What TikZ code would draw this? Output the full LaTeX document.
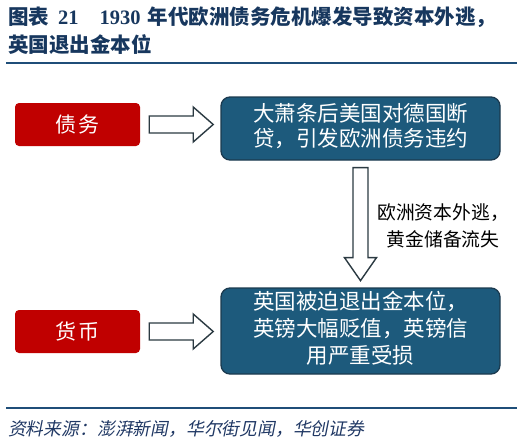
\documentclass[tikz,border=0pt]{standalone}
\usepackage{fontspec}
\usetikzlibrary{calc}
\newfontfamily\cjk{Noto Sans CJK SC}
\newfontfamily\cjkit[FakeSlant=0.2]{Noto Sans CJK SC}
\newfontfamily\latser{Liberation Serif}
\definecolor{titleblue}{HTML}{17375E}
\definecolor{rulec}{HTML}{1F4E79}
\definecolor{boxblue}{HTML}{1D5A7C}
\definecolor{boxedge}{HTML}{1B3A4F}
\definecolor{boxred}{HTML}{C00000}
\definecolor{arrowedge}{HTML}{2B3A42}
\definecolor{footc}{HTML}{203864}
\tikzset{
  redbox/.style={fill=boxred, rounded corners=4pt, minimum width=125pt, minimum height=43pt,
    text=white, font=\cjk\fontsize{21}{24}\selectfont, inner sep=0pt},
  bluebox/.style={fill=boxblue, draw=boxedge, line width=1.3pt, rounded corners=9pt,
    minimum width=279pt, text=white, align=center, inner sep=0pt},
  blockarrow/.style={fill=white, draw=arrowedge, line width=1.4pt, line join=miter},
  rulestyle/.style={draw=rulec, line width=1.8pt}
}
\begin{document}
\begin{tikzpicture}[x=1pt,y=-1pt]
\useasboundingbox (0,0) rectangle (524,444);
% title
\node[anchor=west, inner sep=0pt, text=titleblue, font=\cjk\bfseries\fontsize{20.5}{24}\selectfont] (t1) at (8,17)
  {图表\hspace{9pt}{\latser\bfseries 21}\hspace{21pt}{\latser\bfseries 1930}\hspace{7pt}年代欧洲债务危机爆发导致资本外逃，};
\node[anchor=west, inner sep=0pt, text=titleblue, font=\cjk\bfseries\fontsize{20.5}{24}\selectfont] (t2) at (8,45)
  {英国退出金本位};
\draw[rulestyle] (6,63) -- (517,63);
% boxes
\node[redbox] (r1) at (77.5,124.5) {债\hspace{2pt}务};
\node[bluebox, minimum height=63pt, font=\cjk\fontsize{21.5}{25}\selectfont] (b1) at (360.5,128.5)
  {\raisebox{-3pt}{\begin{tabular}{@{}c@{}}大萧条后美国对德国断\\[-1pt]贷，引发欧洲债务违约\end{tabular}}};
\node[redbox] (r2) at (77.5,331.5) {货\hspace{2pt}币};
\node[bluebox, minimum height=86pt, font=\cjk\fontsize{21.5}{28}\selectfont] (b2) at (360.5,331)
  {\raisebox{-2pt}{\begin{tabular}{@{}c@{}}英国被迫退出金本位，\\[-1pt]英镑大幅贬值，英镑信\\[-1pt]用严重受损\end{tabular}}};
% right arrows
\draw[blockarrow] ($(r1.east)+(9,-8.5)$) -- ++(44,0) -- ++(0,-9) -- ++(20,17.5) -- ++(-20,17.5) -- ++(0,-9) -- ++(-44,0) -- cycle;
\draw[blockarrow] ($(r2.east)+(9,-8.5)$) -- ++(44,0) -- ++(0,-9) -- ++(20,17.5) -- ++(-20,17.5) -- ++(0,-9) -- ++(-44,0) -- cycle;
% down arrow
\draw[blockarrow] ($(b1.south)+(-7.5,7)$) -- ++(0,90) -- ++(-8.5,0) -- ++(16,23) -- ++(16,-23) -- ++(-8.5,0) -- ++(0,-90) -- cycle;
\node[align=center, inner sep=0pt, font=\cjk\fontsize{18.8}{27}\selectfont] (lab) at (443,225.5)
  {欧洲资本外逃，\\黄金储备流失};
% footer
\draw[rulestyle] (6,408) -- (517,408);
\node[anchor=west, inner sep=0pt, text=footc, font=\cjkit\fontsize{17.8}{20}\selectfont] (src) at (8,429)
  {资料来源：澎湃新闻，华尔街见闻，华创证券};
\end{tikzpicture}
\end{document}
